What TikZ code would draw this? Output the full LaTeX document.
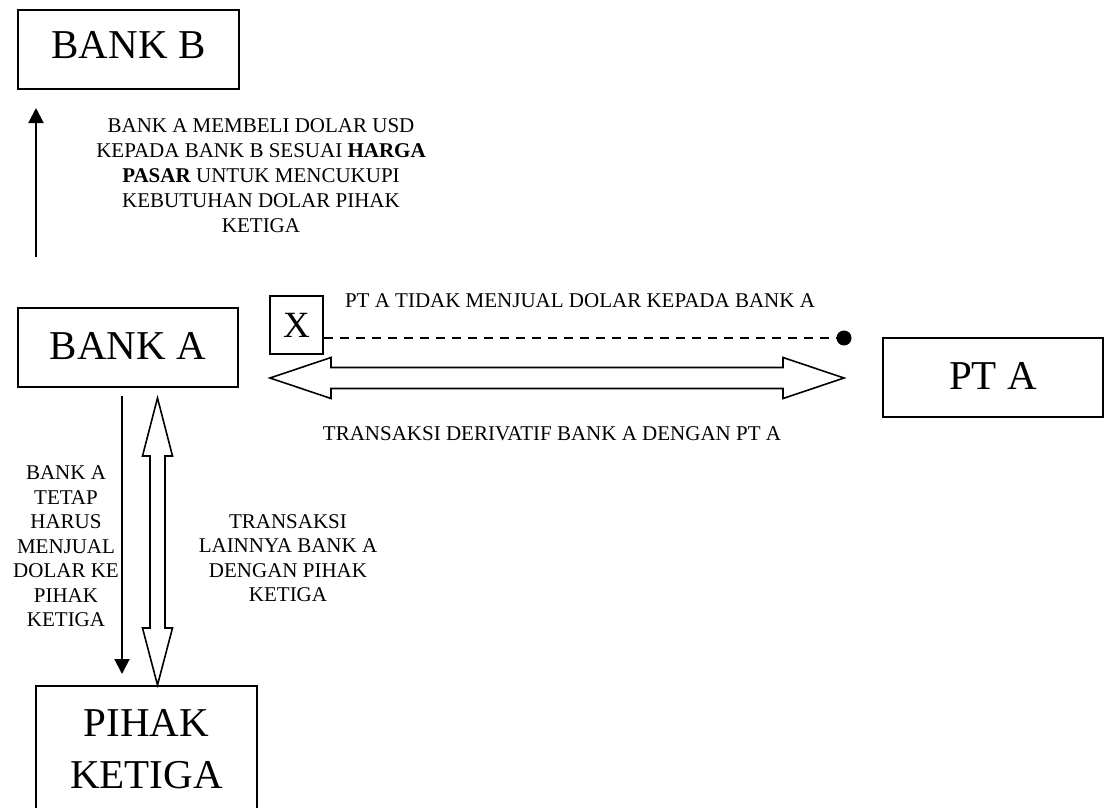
\documentclass[tikz,border=0pt]{standalone}
\usepackage{fontspec}
\setmainfont{Liberation Serif}
\usetikzlibrary{arrows.meta,calc}
\begin{document}
\begin{tikzpicture}[x=1pt,y=-1pt,
  box/.style={draw,line width=1.6pt,font=\fontsize{41}{52}\selectfont,align=center,inner sep=0pt},
  onebox/.style={box,text height=27pt,text depth=6pt},
  lbl/.style={font=\fontsize{21}{25}\selectfont,align=center,inner sep=0pt},
  lblb/.style={font=\fontsize{21}{24.5}\selectfont,align=center,inner sep=0pt},
  arr/.style={line width=2pt,-{Triangle[length=15pt,width=15pt]}},
  hollow/.style={draw,line width=1.6pt,fill=white,line join=miter}]
\clip (0,0) rectangle (1105,808);
\fill[white] (0,0) rectangle (1105,808);

% boxes
\node[onebox,text depth=8pt,minimum width=221pt,minimum height=79pt] (bankB) at (128.5,49.5) {BANK B};
\node[onebox,text depth=4pt,minimum width=220pt,minimum height=79pt] (bankA) at (128,347.5) {BANK A};
\node[onebox,text height=29pt,text depth=5pt,minimum width=220pt,minimum height=79pt] (ptA) at (993,377.5) {PT A};
\node[box,minimum width=221pt,minimum height=126pt] (pihak) at (146.5,749) {PIHAK\\KETIGA};
\node[box,font=\fontsize{37}{40}\selectfont,minimum width=53pt,minimum height=58pt] (xbox) at (296.5,325) {X};

% labels
\node[lbl] (t1) at (261,175.8) {BANK A MEMBELI DOLAR USD\\KEPADA BANK B SESUAI \textbf{HARGA}\\\textbf{PASAR} UNTUK MENCUKUPI\\KEBUTUHAN DOLAR PIHAK\\KETIGA};
\node[lbl,anchor=base] (t2) at (580,307) {PT A TIDAK MENJUAL DOLAR KEPADA BANK A};
\node[lbl,anchor=base] (t3) at (552,440) {TRANSAKSI DERIVATIF BANK A DENGAN PT A};
\node[lblb] (t4) at (66,546.6) {BANK A\\TETAP\\HARUS\\MENJUAL\\DOLAR KE\\PIHAK\\KETIGA};
\node[lblb] (t5) at (288,557.9) {TRANSAKSI\\LAINNYA BANK A\\DENGAN PIHAK\\KETIGA};

% single arrows
\coordinate (upS) at (36,257);
\coordinate (upE) at (36,108);
\draw[arr] (upS) -- (upE);
\coordinate (dnS) at (122,396);
\coordinate (dnE) at (122,674);
\draw[arr] (dnS) -- (dnE);

% dashed line with dot
\coordinate (dot) at (844,338);
\draw[line width=2pt,dash pattern=on 9pt off 7pt] (xbox.east |- dot) -- (dot);
\fill (dot) circle (7.5pt);

% horizontal hollow double arrow
\coordinate (hl) at (270,378);
\coordinate (hr) at (844,378);
\draw[hollow] (hl) -- ($(hl)+(61,-20.5)$) -- ($(hl)+(61,-10.5)$) -- ($(hr)+(-61,-10.5)$)
  -- ($(hr)+(-61,-20.5)$) -- (hr) -- ($(hr)+(-61,20.5)$) -- ($(hr)+(-61,10.5)$)
  -- ($(hl)+(61,10.5)$) -- ($(hl)+(61,20.5)$) -- cycle;

% vertical hollow double arrow
\coordinate (vt) at (157.5,398);
\coordinate (vb) at (157.5,685);
\draw[hollow] (vt) -- ($(vt)+(15,58)$) -- ($(vt)+(7.5,58)$) -- ($(vb)+(7.5,-57)$)
  -- ($(vb)+(15,-57)$) -- (vb) -- ($(vb)+(-15,-57)$) -- ($(vb)+(-7.5,-57)$)
  -- ($(vt)+(-7.5,58)$) -- ($(vt)+(-15,58)$) -- cycle;
\end{tikzpicture}
\end{document}
